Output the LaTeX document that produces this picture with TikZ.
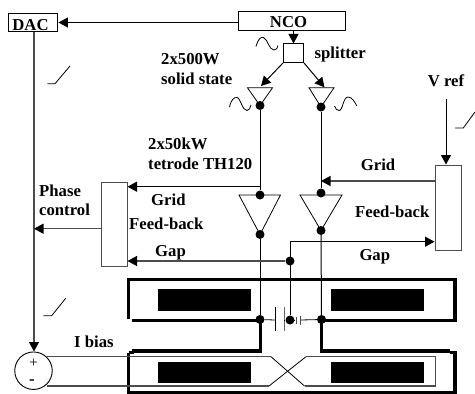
\documentclass[tikz,border=0pt]{standalone}
\usepackage{fontspec}
\setmainfont{Liberation Serif}
\usetikzlibrary{arrows.meta}
\tikzset{
  x=1pt,y=-1pt,
  wire/.style={line width=1pt,black},
  gwire/.style={line width=1.3pt,black!70},
  arr/.style={-{Triangle[length=9.5pt,width=10pt,color=black,fill=black]}},
  boxn/.style={draw,line width=1pt,inner sep=0pt,rectangle},
  gboxn/.style={boxn,draw=black!70},
  lab/.style={inner sep=0pt,anchor=base west,font=\bfseries\fontsize{16.7}{18}\selectfont},
  dotn/.style={circle,fill=black,inner sep=0pt,minimum size=9pt},
  cav/.style={line width=3.2pt,black,line cap=butt,line join=miter},
  bar/.style={fill=black,draw=none},
  thinl/.style={line width=0.8pt,black}
}
\begin{document}
\begin{tikzpicture}
\useasboundingbox (0,0) rectangle (475,394);
% boxes
\node[boxn,minimum width=49.5pt,minimum height=18pt] (dac) at (33.2,22.5) {};
\node[lab,anchor=base] (dactxt) at (30.5,30) {DAC};
\node[boxn,minimum width=107pt,minimum height=19.5pt] (nco) at (291.5,20.8) {};
\node[lab,anchor=base] (ncotxt) at (288.5,27) {NCO};
\node[boxn,minimum width=20pt,minimum height=18.5pt] (split) at (293.5,53.2) {};
\node[gboxn,minimum width=26pt,minimum height=84.5pt] (fbl) at (114,224.7) {};
\node[gboxn,minimum width=26pt,minimum height=85pt] (fbr) at (448,207.5) {};
\node[draw,circle,line width=0.9pt,inner sep=0pt,minimum size=37.5pt] (sum) at (33.5,370.7) {};
\node[inner sep=0pt,font=\fontsize{15}{15}\selectfont] (plus) at (33.7,363.5) {+};
\node[inner sep=0pt,font=\bfseries\fontsize{17}{17}\selectfont] (minus) at (32,382) {-};
% dots
\node[dotn] (t1o) at (260,105.5) {};
\node[dotn] (t2o) at (321,107) {};
\node[dotn] (t3i) at (260,195) {};
\node[dotn] (t4i) at (321,193) {};
\node[dotn] (t3o) at (260,234.5) {};
\node[dotn] (t4o) at (321,230.5) {};
\node[dotn] (gapd) at (290,261) {};
\node[dotn] (jl) at (260,319.5) {};
\node[dotn] (jm) at (290,320) {};
\node[dotn] (jr) at (321.5,319.5) {};
% coordinates
\coordinate (t1in) at (261,86);
\coordinate (t2in) at (324.5,87.3);
\coordinate (gl) at (260,186.7);
\coordinate (gr) at (321,181);
\coordinate (pc) at (34,228.7);
\coordinate (gaptop) at (290,241.7);
\coordinate (vref) at (446,99);
\coordinate (p1) at (275,320);
\coordinate (p2) at (284.3,320);
\coordinate (p4) at (300.7,320);
% amplifiers
\draw[thinl] (247.5,87.8) -- (272.5,87.8) -- (260,105.5) -- cycle;
\draw[thinl] (309,87.8) -- (334,87.8) -- (321,107) -- cycle;
\draw[thinl] (239,195) -- (280.5,195) -- (260,234.5) -- cycle;
\draw[thinl] (300,195) -- (342,195) -- (321,230.5) -- cycle;
% black cavities
\draw[bar] (158,289.3) rectangle (251,311);
\draw[bar] (331.3,289.3) rectangle (424,311);
\draw[bar] (158,361.7) rectangle (251,383.3);
\draw[bar] (331.3,361.7) rectangle (424,383.3);
% thick outlines
\draw[cav] (128.5,319) -- (128.5,279.2) -- (455,279.2) -- (455,319);
\draw[cav] (132,320.8) -- (260,320.8);
\draw[cav] (321.6,320.8) -- (450,320.8);
\draw[cav] (455,321) -- (455,319) (450,320.8) -- (456.6,320.8);
\draw[cav] (132,351) -- (260.3,351) -- (260.3,320);
\draw[cav] (321.6,320) -- (321.6,351) -- (450,351);
\draw[cav] (128.5,352.5) -- (128.5,393) -- (455,393) -- (455,352.5) -- (450,352.5);
\draw[cav] (128.5,352.5) -- (134,352.5);
% arrows and wires
\draw[wire,arr] (nco.west |- dac.east) -- (dac.east);
\draw[wire,arr] (nco.south -| split.north) -- (split.north);
\draw[wire,arr] (split.south west) -- (t1in);
\draw[wire,arr] (split.south east) -- (t2in);
\draw[wire] (t1o) -- (t3i);
\draw[wire] (t2o) -- (t4i);
\draw[wire] (t3o) -- (jl);
\draw[wire] (t4o) -- (jr);
\draw[wire,arr] (gl) -- (gl -| fbl.east);
\draw[gwire,arr] (gr -| fbr.west) -- (gr);
\draw[gwire,arr] (gapd) -- (gapd -| fbl.east);
\draw[wire,arr] (jm.north) -- (gaptop) -- (gaptop -| fbr.west);
\draw[wire,arr] (vref) -- (vref |- fbr.north);
\draw[gwire,arr] (dac.south -| pc) -- (sum.north -| pc);
\draw[gwire,arr] (pc -| fbl.west) -- (pc);
% capacitor
\draw[thinl] (jl) -- (p1);
\draw[line width=1pt] (p1 |- 0,307) -- (p1 |- 0,331);
\draw[line width=1.3pt,black!60] (p2 |- 0,307) -- (p2 |- 0,331);
\draw[thinl] (p2) -- (jm);
\draw[thinl] (jm) -- (293,320);
\draw[line width=1pt,black!70] (296,316.5) -- (296,323.5);
\draw[line width=1pt,black!70] (p4 |- 0,315.5) -- (p4 |- 0,324.5);
\draw[thinl] (p4) -- (jr);
% beam wires
\draw[gwire] (sum.north east |- 0,356.7) -- (271,356.7);
\draw[thinl] (271,356.7) -- (304.5,386);
\draw[gwire] (304.5,386) -- (435.5,386) -- (435.5,356.7) -- (306,356.7);
\draw[thinl] (306,356.7) -- (269,386);
\draw[gwire] (269,386) -- (sum.south east |- 0,386);
% sine symbols
\draw[thinl] (256,46.5) .. controls (258,39) and (261,36.5) .. (263.5,37.5) .. controls (268,39.5) and (269,50) .. (274,50) .. controls (276.5,50) and (277.5,48) .. (278,45.5);
\draw[thinl] (229.5,107) .. controls (231,100) and (234,97) .. (237,97.5) .. controls (241,98.5) and (242,110.5) .. (247,110.5) .. controls (249,110.5) and (250.5,108) .. (251,105);
\draw[thinl] (334.5,106) .. controls (335.5,109) and (337,110.5) .. (339,110.5) .. controls (343,110.5) and (343,97) .. (348,97) .. controls (352,97) and (355,102) .. (356.7,106);
% ramps
\draw[thinl] (47.3,83.7) -- (55,83.7) -- (70,66);
\draw[thinl] (43.3,315.7) -- (51.7,315.7) -- (65.7,298.3);
\draw[thinl] (455,128) -- (463.3,128) -- (475,112);
% labels
\node[lab] (a) at (161,64) {2x500W};
\node[lab] (b) at (161,84) {solid state};
\node[lab] (c) at (148,149) {2x50kW};
\node[lab] (d) at (148,169) {tetrode TH120};
\node[lab] (e) at (314.5,58.5) {splitter};
\node[lab] (f) at (427.7,86) {V ref};
\node[lab] (g) at (360.7,170.7) {Grid};
\node[lab] (h) at (39,196) {Phase};
\node[lab] (i) at (39,215) {control};
\node[lab] (j) at (151,205) {Grid};
\node[lab] (k) at (129,229) {Feed-back};
\node[lab] (l) at (155,256) {Gap};
\node[lab] (m) at (355,217.7) {Feed-back};
\node[lab] (n) at (359.3,260) {Gap};
\node[lab] (o) at (74,347.7) {I bias};
\end{tikzpicture}
\end{document}
